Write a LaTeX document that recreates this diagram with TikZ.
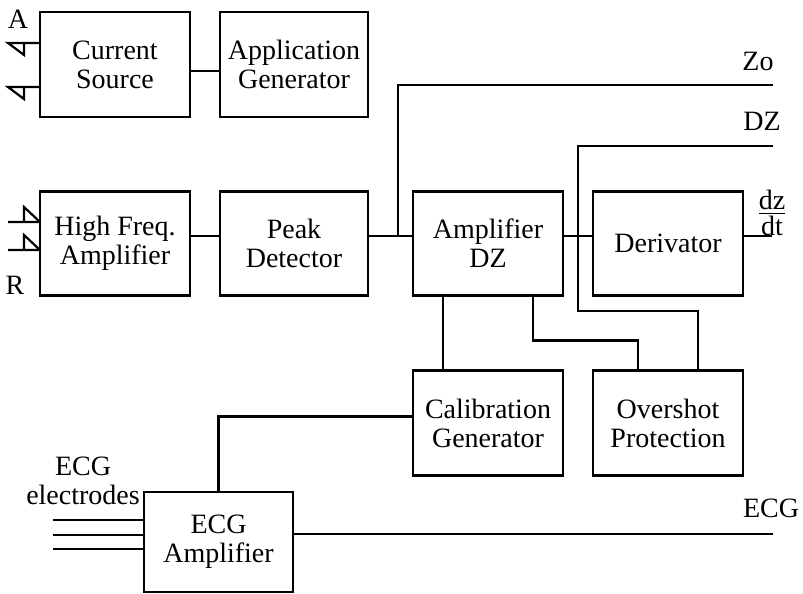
\documentclass[tikz,border=0pt]{standalone}
\usepackage{amsmath}
\usepackage{fontspec}
\setmainfont{Liberation Serif}
\usetikzlibrary{positioning}

\begin{document}
\begin{tikzpicture}[x=1pt,y=-1pt,line width=2.2pt,
		blk/.style={draw, rectangle, minimum width=150pt, minimum height=104pt, inner sep=0pt, outer sep=0pt, align=center, font=\fontsize{28}{29}\selectfont},
		lbl/.style={inner sep=0pt, font=\fontsize{28}{29}\selectfont}]
		\useasboundingbox (0,0) rectangle (803,594);
		% blocks
		\node[blk, minimum height=105pt] (cursrc) at (115,64.5) {Current\\Source}; %% current source
		\node[blk, minimum height=105pt, minimum width=148pt, right=30pt of cursrc] (appgen) {Application\\Generator}; %% application generator
		\node[blk] (hfamp) at (115,243.5) {High Freq.\\Amplifier}; %% hf amplifier
		\node[blk, minimum width=148pt, right=30pt of hfamp] (peakdet) {Peak\\Detector}; %% peak detector
		\node[blk, right=45pt of peakdet] (ampdz) {Amplifier\\DZ}; %% amplifier DZ
		\node[blk, right=30pt of ampdz] (deriv) {Derivator}; %% derivator
		\node[blk, minimum height=105pt, below=75pt of ampdz] (calgen) {Calibration\\Generator}; %% calibration
		\node[blk, minimum height=105pt, right=30pt of calgen] (overshot) {Overshot\\Protection}; %% overshot
		\node[blk, minimum width=149pt, minimum height=100pt] (ecgamp) at (218.5,542) {ECG\\Amplifier}; %% ecg amplifier
		% free ends
		\coordinate (zojn) at (398,236);
		\coordinate (zo) at (773,85);
		\coordinate (dz) at (773,146);
		\coordinate (dzjn) at (578,311);
		\coordinate (dzdt) at (772,236);
		\coordinate (ecg) at (773,534);
		% connections
		\draw ([yshift=-6.5pt]cursrc.east) -- ([yshift=-6.5pt]appgen.west);
		\draw ([yshift=7.5pt]hfamp.east) -- ([yshift=7.5pt]peakdet.west);
		\draw ([yshift=7.5pt]peakdet.east) -- ([yshift=7.5pt]ampdz.west);
		\draw ([yshift=7.5pt]ampdz.east) -- ([yshift=7.5pt]deriv.west);
		\draw ([yshift=7.5pt]deriv.east) -- (dzdt);
		\draw (zojn) |- (zo); %% Zo output
		\draw (dz) -| (dzjn) -| ([xshift=30pt]overshot.north); %% DZ output
		\draw ([xshift=-45pt]ampdz.south) -- ([xshift=-45pt]calgen.north);
		\draw ([xshift=45pt]ampdz.south) -- ++(0,45) -| ([xshift=-30pt]overshot.north);
		\draw ([yshift=6.5pt]calgen.west) -| (ecgamp.north);
		\draw ([yshift=8pt]ecgamp.east) -- (ecg); %% ECG output
		% electrodes
		\foreach \dy in {21.5,-22.5}
			\draw ([yshift=\dy pt]cursrc.west) -- ++(-32,0) -- ++(16,12) -- ++(0,-12);
		\foreach \dy in {21.5,-6.5}
			\draw ([yshift=\dy pt]hfamp.west) -- ++(-32,0) ++(16,0) -- ++(0,-15) -- ++(16,15);
		\foreach \dy in {22,7,-7}
			\draw ([yshift=\dy pt]ecgamp.west) -- ++(-91,0);
		% labels
		\node[lbl] (alab) at (18,19) {A};
		\node[lbl] (rlab) at (15,285) {R};
		\node[lbl] (zolab) at (758,61) {Zo};
		\node[lbl] (dzlab) at (762,121) {DZ};
		\node[lbl] (dzdtlab) at (772,213) {$\genfrac{}{}{1.5pt}{}{\mbox{dz}}{\mbox{dt}}$};
		\node[lbl] (ecglab) at (771,508) {ECG};
		\node[lbl, align=center] (ecgel) at (83,481) {ECG\\electrodes};
	\end{tikzpicture}
\end{document}
